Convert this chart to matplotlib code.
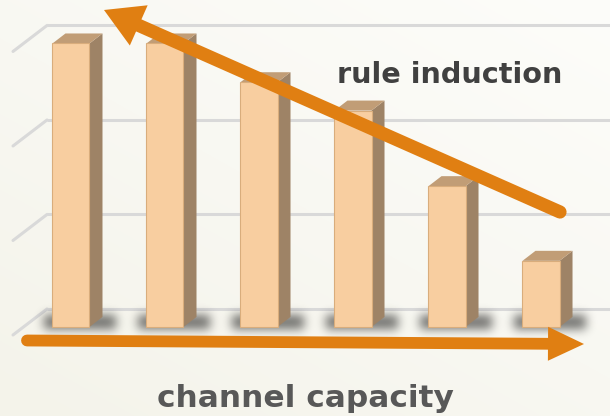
import numpy as np
import matplotlib
matplotlib.use("Agg")
import matplotlib.pyplot as plt
from matplotlib.patches import Polygon
from matplotlib.transforms import Affine2D

# ---- data -------------------------------------------------------------
categories = ["1", "2", "3", "4", "5", "6"]
values = [3.0, 3.0, 2.59, 2.29, 1.49, 0.70]
grid_levels = [0, 1, 2, 3]
x_label = "channel capacity"
trend_label = "rule induction"

# ---- style ------------------------------------------------------------
W, H = 610, 416
FRONT = "#f8cea0"
TOP = "#c19d76"
SIDE = "#9e8366"
EDGE = "#d9ad7c"
ORANGE = "#e07f12"
GRID = "#d9d9d9"
FONT = ["DejaVu Sans"]

fig = plt.figure(figsize=(W / 100, H / 100), dpi=100)
ax = fig.add_axes([0, 0, 1, 1])
ax.set_xlim(-0.755, 5.734)
ax.set_ylim(-0.942, 3.460)
ax.axis("off")

# pixel helpers (image pixels, y pointing down)
pix = Affine2D().scale(1, -1).translate(0, H)
to_data = ax.transData.inverted()


def px_to_data(x, y):
    return to_data.transform((x, H - y))


# units of one pixel in data space
ux = (5.734 + 0.755) / W
uy = (3.460 + 0.942) / H

# ---- background ------------------------------------------------------
yy, xx = np.mgrid[0:H, 0:W]
t = np.clip((xx / W) * 0.45 + (1 - yy / H) * 0.55, 0, 1)
c0 = np.array([244, 243, 234]) / 255
c1 = np.array([253, 253, 250]) / 255
bg = c0[None, None, :] * (1 - t[..., None]) + c1[None, None, :] * t[..., None]
ax.imshow(bg, extent=(-0.755, 5.734, -0.942, 3.460), origin="upper",
          aspect="auto", zorder=0)

# ---- back-wall gridlines ---------------------------------------------
wall_dy = 18 * uy
diag_dx, diag_dy = -34 * ux, -26 * uy
left_edge = px_to_data(47, 0)[0]
for g in grid_levels:
    y = g + wall_dy
    ax.plot([left_edge, 5.734], [y, y], color=GRID, lw=2.2,
            solid_capstyle="butt", zorder=1)
    ax.plot([left_edge, left_edge + diag_dx], [y, y + diag_dy], color=GRID,
            lw=2.2, solid_capstyle="round", zorder=1)

# ---- soft shadows at bar bases ---------------------------------------
bar_w = 0.394
dx, dy = 13 * ux, 10 * uy
shadow = np.zeros((H, W))
for i, v in enumerate(values):
    x0 = i - bar_w / 2
    p0 = ax.transData.transform((x0, 0))
    p1 = ax.transData.transform((x0 + bar_w + dx, 0))
    lx, rx = int(p0[0]) - 8, int(p1[0]) + 14
    by = H - int(p0[1])
    shadow[by - 12:by + 2, lx:rx] = 1.0
k = np.exp(-0.5 * (np.arange(-14, 15) / 5.0) ** 2)
k /= k.sum()
shadow = np.apply_along_axis(lambda r: np.convolve(r, k, mode="same"), 1, shadow)
shadow = np.apply_along_axis(lambda c: np.convolve(c, k, mode="same"), 0, shadow)
sh = np.zeros((H, W, 4))
sh[..., 3] = shadow * 0.55
ax.imshow(sh, extent=(-0.755, 5.734, -0.942, 3.460), origin="upper",
          aspect="auto", zorder=2)

# ---- 3-D bars ---------------------------------------------------------
for i, v in enumerate(values):
    x0, x1 = i - bar_w / 2, i + bar_w / 2
    side = Polygon([(x1, 0), (x1 + dx, dy), (x1 + dx, v + dy), (x1, v)],
                   closed=True, fc=SIDE, ec="none", zorder=3)
    top = Polygon([(x0, v), (x1, v), (x1 + dx, v + dy), (x0 + dx, v + dy)],
                  closed=True, fc=TOP, ec="none", zorder=3)
    ax.add_patch(side)
    ax.add_patch(top)
    ax.bar(i, v, width=bar_w, color=FRONT, edgecolor=EDGE, linewidth=0.8,
           zorder=4)

# ---- trend arrows -----------------------------------------------------
def arrow(tail, tip, width, head_len, head_half):
    tail = np.array(tail, float)
    tip = np.array(tip, float)
    d = tip - tail
    d /= np.hypot(*d)
    n = np.array([-d[1], d[0]])
    base = tip - d * head_len
    ax.plot([tail[0], base[0] + d[0] * 2], [tail[1], base[1] + d[1] * 2],
            color=ORANGE, lw=width, solid_capstyle="round", transform=pix,
            zorder=6)
    head = Polygon([tip, base + n * head_half, base - n * head_half],
                   closed=True, fc=ORANGE, ec="none", transform=pix, zorder=6)
    ax.add_patch(head)


arrow((27, 340.5), (584, 344), 8.5, 36, 17)
arrow((560, 212), (104, 10), 9.5, 38, 22)

# ---- labels (sized to span their target widths) -----------------------
renderer = fig.canvas.get_renderer()


def fitted_text(cx, baseline, s, width, color):
    txt = ax.text(cx, baseline, s, transform=pix, ha="center", va="baseline",
                  fontsize=24, fontweight="bold", color=color, family=FONT,
                  zorder=7)
    w = txt.get_window_extent(renderer).width
    txt.set_fontsize(24 * width / w)
    return txt


fitted_text(450, 83, trend_label, 226, "#404040")
fitted_text(305.5, 407, x_label, 297, "#585858")

fig.savefig("out.png", dpi=100)
